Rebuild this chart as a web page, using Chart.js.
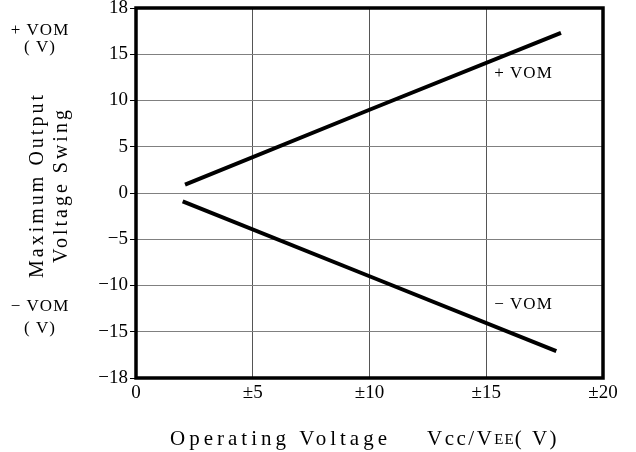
<!DOCTYPE html>
<html>
<head>
<meta charset="utf-8">
<script src="https://cdn.jsdelivr.net/npm/chart.js@4"></script>
<style>
  html, body { margin: 0; padding: 0; background: #fff; }
  #wrap { width: 636px; height: 452px; }
</style>
</head>
<body>
<div id="wrap"><canvas id="c" width="636" height="452"></canvas></div>
<script>
// ---- data (y values in the chart's own evenly spaced axis units) ----
const posVomX = [2.1, 10.0, 18.2];
const posVomY = [0.9, 9.0, 17.3];
const negVomX = [2.0, 10.0, 18.0];
const negVomY = [-0.9, -9.0, -17.1];

const xTickValues = [0, 5, 10, 15, 20];
const xTickLabels = ['0', '±5', '±10', '±15', '±20'];
const yTickValues = [20, 15, 10, 5, 0, -5, -10, -15, -20];
const yTickLabels = ['18', '15', '10', '5', '0', '−5', '−10', '−15', '−18'];

const yTitleLines = ['Maximum Output', 'Voltage Swing'];

const toPts = (xs, ys) => xs.map((x, i) => ({x: x, y: ys[i]}));

const SERIF = '"Liberation Serif", "DejaVu Serif", serif';

const decor = {
  id: 'decor',
  afterDraw(chart) {
    const ctx = chart.ctx;
    const a = chart.chartArea;
    const xs = chart.scales.x, ys = chart.scales.y;
    ctx.save();
    // frame
    ctx.strokeStyle = '#000';
    ctx.lineWidth = 3.5;
    ctx.strokeRect(a.left, a.top, a.right - a.left, a.bottom - a.top);

    ctx.fillStyle = '#000';
    ctx.letterSpacing = '1px';
    // inside labels
    ctx.font = '17px ' + SERIF;
    ctx.textAlign = 'left';
    ctx.textBaseline = 'middle';
    ctx.fillText('+ VOM', xs.getPixelForValue(15) + 8, ys.getPixelForValue(12.9));
    ctx.fillText('− VOM', xs.getPixelForValue(15) + 8, ys.getPixelForValue(-12.1));

    // left unit labels
    ctx.textAlign = 'center';
    ctx.fillText('+ VOM', 40, ys.getPixelForValue(17.6));
    ctx.fillText('( V)', 40, ys.getPixelForValue(15.7));
    ctx.fillText('− VOM', 40, ys.getPixelForValue(-12.3));
    ctx.fillText('( V)', 40, ys.getPixelForValue(-14.6));

    // y title (rotated, two lines)
    ctx.letterSpacing = '3px';
    ctx.font = '20px ' + SERIF;
    const cy = (a.top + a.bottom) / 2 - 8;
    ctx.translate(38, cy);
    ctx.rotate(-Math.PI / 2);
    ctx.textAlign = 'center';
    ctx.fillText(yTitleLines[0], 0, 0);
    ctx.fillText(yTitleLines[1], 0, 24);
    ctx.setTransform(1, 0, 0, 1, 0, 0);

    // x title
    const ty = 439;
    ctx.textAlign = 'left';
    ctx.letterSpacing = '4px';
    ctx.font = '21px ' + SERIF;
    ctx.fillText('Operating Voltage', 170, ty);
    let x = 427;
    ctx.letterSpacing = '2.5px';
    ctx.fillText('Vcc/V', x, ty);
    x += ctx.measureText('Vcc/V').width;
    ctx.font = '15px ' + SERIF;
    ctx.letterSpacing = '1px';
    ctx.fillText('EE', x, ty + 1);
    x += ctx.measureText('EE').width;
    ctx.font = '21px ' + SERIF;
    ctx.letterSpacing = '2.5px';
    ctx.fillText('( V)', x, ty);
    ctx.restore();
  }
};

new Chart(document.getElementById('c'), {
  type: 'scatter',
  data: {
    datasets: [
      { data: toPts(posVomX, posVomY), showLine: true, borderColor: '#000', borderWidth: 4, pointRadius: 0, fill: false },
      { data: toPts(negVomX, negVomY), showLine: true, borderColor: '#000', borderWidth: 4, pointRadius: 0, fill: false }
    ]
  },
  options: {
    responsive: false,
    animation: false,
    layout: { padding: { top: 8, right: 33, left: 0, bottom: 0 } },
    plugins: { legend: { display: false }, tooltip: { enabled: false } },
    scales: {
      x: {
        type: 'linear', min: 0, max: 20,
        afterFit: s => { s.height = 74; },
        afterBuildTicks: s => { s.ticks = xTickValues.map(v => ({value: v})); },
        ticks: {
          color: '#000', padding: 4, maxRotation: 0,
          font: { family: SERIF, size: 19 },
          callback: v => xTickLabels[xTickValues.indexOf(v)]
        },
        grid: {
          color: ctx => (ctx.tick && (ctx.tick.value === 0 || ctx.tick.value === 20)) ? 'rgba(0,0,0,0)' : '#555',
          lineWidth: 1, drawTicks: false
        },
        border: { display: false }
      },
      y: {
        type: 'linear', min: -20, max: 20,
        afterFit: s => { s.width = 136; s.paddingTop = 0; s.paddingBottom = 0; },
        afterBuildTicks: s => { s.ticks = yTickValues.map(v => ({value: v})); },
        ticks: {
          color: '#000', padding: 2,
          font: { family: SERIF, size: 19 },
          callback: v => yTickLabels[yTickValues.indexOf(v)]
        },
        grid: {
          color: ctx => (ctx.tick && Math.abs(ctx.tick.value) === 20) ? '#000' : '#808080',
          lineWidth: 1, drawTicks: true, tickLength: 6, tickColor: '#000'
        },
        border: { display: false }
      }
    }
  },
  plugins: [decor]
});
</script>
</body>
</html>
